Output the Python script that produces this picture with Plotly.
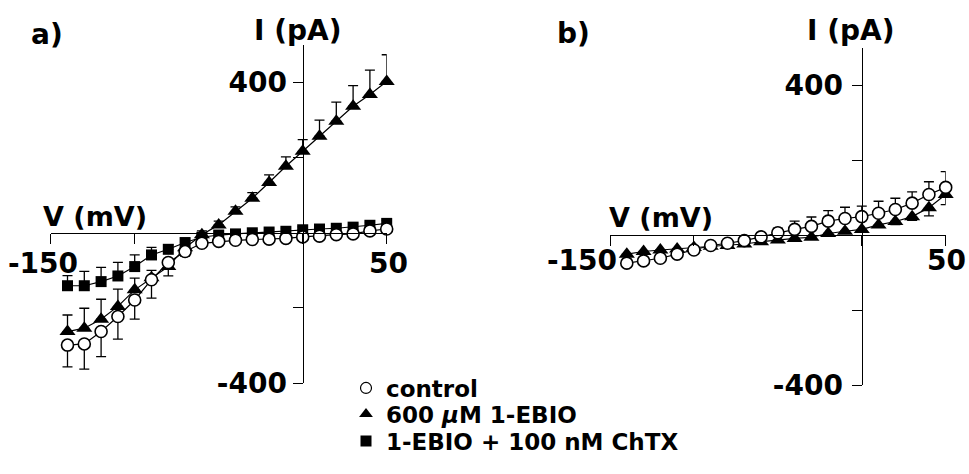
import plotly.graph_objects as go

# ---------------- data ----------------
voltage = [-140, -130, -120, -110, -100, -90, -80, -70, -60, -50,
           -40, -30, -20, -10, 0, 10, 20, 30, 40, 50]

# panel a
ctrl_a = [-299, -296, -263, -223, -179, -125, -79, -50, -28, -23,
          -20, -18, -17, -15, -11, -9, -5, -3, 5, 10]
ctrl_a_err_down = [58, 67, 67, 60, 51, 49, 36, 12, 8, 8,
                   8, 8, 8, 8, 8, 8, 8, 8, 8, 8]
ebio_a = [-263, -254, -230, -196, -152, -120, -90, -40, -5, 21,
          57, 92, 134, 177, 217, 257, 297, 337, 368, 403]
ebio_a_err_up = [44, 53, 53, 46, 31, 20, 15, 12, 10, 10,
                 12, 15, 20, 25, 31, 43, 51, 55, 65, 71]
chtx_a = [-141, -141, -130, -115, -90, -59, -44, -26, -12, -6,
          -3, 0, 2, 4, 8, 10, 12, 15, 20, 25]
chtx_a_err_up = [27, 38, 38, 36, 31, 20, 12, 10, 8, 8,
                 8, 8, 8, 8, 8, 8, 8, 8, 8, 8]

# panel b
ctrl_b = [-75, -69, -62, -51, -40, -28, -22, -15, -5, 6,
          15, 23, 37, 44, 49, 58, 68, 85, 108, 127]
ctrl_b_err_up = [8, 8, 8, 8, 8, 8, 8, 8, 10, 12,
                 22, 25, 28, 30, 28, 32, 30, 30, 34, 42]
ebio_b = [-51, -44, -40, -37, -33, -30, -28, -24, -18, -13,
          -9, -6, 4, 10, 15, 27, 36, 49, 73, 108]
ebio_b_err_down = [5, 5, 5, 5, 5, 5, 5, 5, 5, 5,
                   5, 5, 5, 5, 5, 5, 8, 10, 22, 27]

x_tick_vals = [-150, -100, 0, 50]
x_tick_labels = ["-150", "", "", "50"]
y_tick_vals = [-400, -200, 200, 400]
y_tick_labels = ["-400", "", "", "400"]

series_names = ["control", "600 <i>µ</i>M 1-EBIO", "1-EBIO + 100 nM ChTX"]
panel_labels = ["a)", "b)"]
x_title = "V (mV)"
y_title = "I (pA)"

# ---------------- styling ----------------
W, H = 969, 474
FONT = "DejaVu Sans"
BLACK = "black"

circle_m = dict(symbol="circle", size=12, color="white", line=dict(color=BLACK, width=1.6))
tri_m = dict(symbol="triangle-up", size=14, color=BLACK, line=dict(color=BLACK, width=0))
sq_m = dict(symbol="square", size=11, color=BLACK, line=dict(color=BLACK, width=0))
line_s = dict(color=BLACK, width=1.2)


def err(up, down):
    return dict(type="data", symmetric=False, array=up, arrayminus=down,
                color=BLACK, thickness=1.3, width=5)


zeros = [0] * len(voltage)
fig = go.Figure()

common_tr = dict(mode="lines+markers", line=line_s, showlegend=False, cliponaxis=False)

# panel a: triangles, squares, circles (circles on top)
fig.add_trace(go.Scatter(x=voltage, y=ebio_a, marker=tri_m, error_y=err(ebio_a_err_up, zeros),
                         xaxis="x", yaxis="y", **common_tr))
fig.add_trace(go.Scatter(x=voltage, y=chtx_a, marker=sq_m, error_y=err(chtx_a_err_up, zeros),
                         xaxis="x", yaxis="y", **common_tr))
fig.add_trace(go.Scatter(x=voltage, y=ctrl_a, marker=circle_m, error_y=err(zeros, ctrl_a_err_down),
                         xaxis="x", yaxis="y", **common_tr))

# panel b
fig.add_trace(go.Scatter(x=voltage, y=ebio_b, marker=tri_m, error_y=err(zeros, ebio_b_err_down),
                         xaxis="x2", yaxis="y2", **common_tr))
fig.add_trace(go.Scatter(x=voltage, y=ctrl_b, marker=circle_m, error_y=err(ctrl_b_err_up, zeros),
                         xaxis="x2", yaxis="y2", **common_tr))


def px_x(p):
    return p / W


def px_y(p):
    return 1 - p / H


# legend entries (markers only), one legend per row so rows sit exactly
leg_circle = dict(circle_m, size=11, line=dict(color=BLACK, width=1.2))
leg_markers = [leg_circle, dict(tri_m, size=12), dict(sq_m, size=11)]
leg_ids = ["legend", "legend2", "legend3"]
leg_rows = [388, 414, 441]
leg_font = dict(family=FONT, size=23, color=BLACK, weight="bold")
for name, m, lid in zip(series_names, leg_markers, leg_ids):
    fig.add_trace(go.Scatter(x=[None], y=[None], mode="markers", marker=m, name=name,
                             showlegend=True, legend=lid, xaxis="x", yaxis="y"))
leg_layout = {}
for lid, row in zip(leg_ids, leg_rows):
    leg_layout[lid] = dict(x=px_x(346), y=px_y(row), xanchor="left", yanchor="middle",
                           bgcolor="rgba(0,0,0,0)", borderwidth=0, font=leg_font,
                           itemsizing="trace")

axis_common = dict(showline=True, linecolor=BLACK, linewidth=1.3, ticks="outside",
                   ticklen=10, tickwidth=1.3, tickcolor=BLACK, showgrid=False,
                   zeroline=False, fixedrange=True, automargin=False)

xa = dict(axis_common, range=[-150, 50], tickvals=x_tick_vals, showticklabels=False, anchor="free")
ya = dict(axis_common, range=[-400, 500], tickvals=y_tick_vals, ticktext=y_tick_labels,
          tickfont=dict(family=FONT, size=28, color=BLACK, weight="bold"), anchor="free")

fig.update_layout(
    width=W, height=H, autosize=False,
    margin=dict(l=0, r=0, t=0, b=0, autoexpand=False),
    paper_bgcolor="white", plot_bgcolor="white",
    xaxis=dict(xa, domain=[px_x(50.7), px_x(386.7)], position=px_y(233)),
    yaxis=dict(ya, domain=[px_y(383), px_y(45)], position=px_x(302.7), ticklabelstandoff=0),
    xaxis2=dict(xa, domain=[px_x(610), px_x(945.7)], position=px_y(235)),
    yaxis2=dict(ya, domain=[px_y(385), px_y(47.5)], position=px_x(861.7), ticklabelstandoff=3),
    showlegend=True,
    **leg_layout,
)

annots = []
title_font = dict(family=FONT, size=28, color=BLACK, weight="bold")
for lbl, (cx, cy) in zip(panel_labels, [(47, 34), (573, 33)]):
    annots.append(dict(text=lbl, x=px_x(cx), y=px_y(cy), xref="paper", yref="paper",
                       xanchor="center", yanchor="middle", showarrow=False, font=title_font))
for (cx, cy) in [(297, 31), (850, 31)]:
    annots.append(dict(text=y_title, x=px_x(cx), y=px_y(cy), xref="paper", yref="paper",
                       xanchor="center", yanchor="middle", showarrow=False, font=title_font))
for (cx, cy) in [(95, 216), (661, 218)]:
    annots.append(dict(text=x_title, x=px_x(cx), y=px_y(cy), xref="paper", yref="paper",
                       xanchor="center", yanchor="middle", showarrow=False,
                       font=dict(title_font, size=27)))
# x tick labels placed through the x scales
for xref, ypix, shifts in [("x", 263, {-150: -8, 50: 2}), ("x2", 260, {-150: -28, 50: 1})]:
    for v, t in zip(x_tick_vals, x_tick_labels):
        if t:
            annots.append(dict(text=t, x=v, y=px_y(ypix), xref=xref, yref="paper",
                               xanchor="center", yanchor="middle", xshift=shifts[v],
                               showarrow=False, font=title_font))
fig.update_layout(annotations=annots)

post = ("var d=document.getElementById('{plot_id}');"
        "d.style.position='fixed';d.style.left='0px';d.style.top='0px';"
        "document.body.style.margin='0';document.body.style.height='474px';"
        "document.body.style.overflow='hidden';"
        "document.documentElement.style.overflow='hidden';")

fig.write_html("out.html", post_script=post, config={"displayModeBar": False})
